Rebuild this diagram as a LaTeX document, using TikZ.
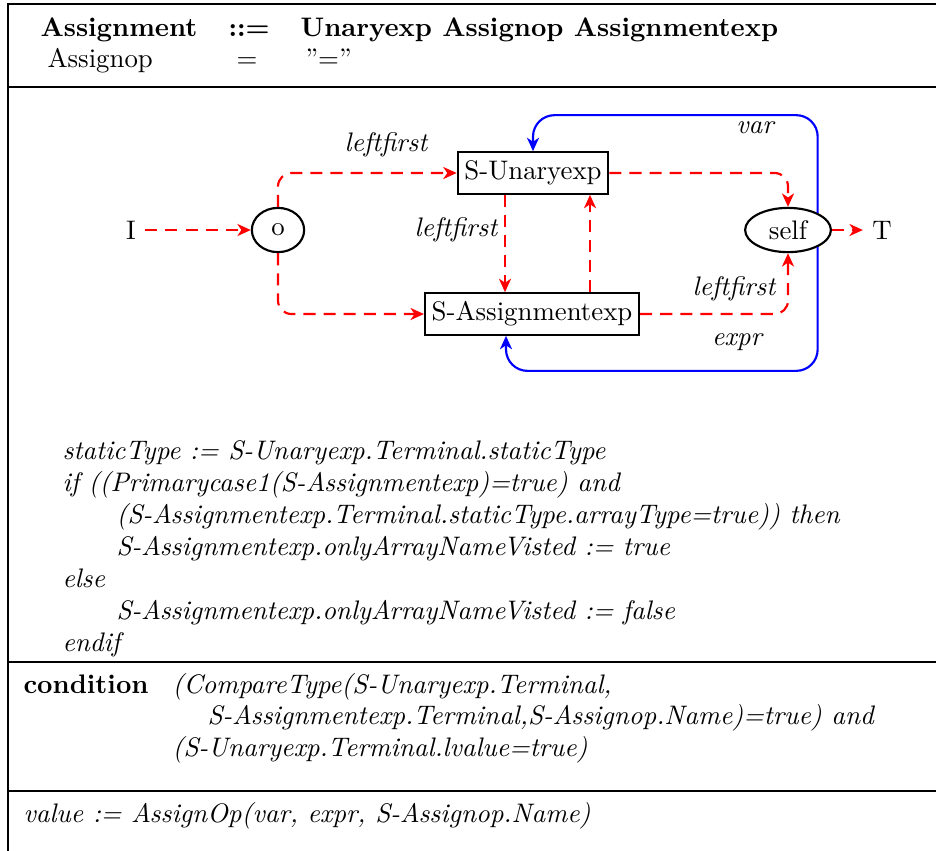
\documentclass[tikz,border=0pt]{standalone}
\usetikzlibrary{arrows.meta,calc,shapes.geometric}

\tikzset{
  flow/.style={->, red, thick, dash pattern=on 4.5pt off 3pt, rounded corners=5pt},
  feed/.style={->, blue, thick, rounded corners=8pt},
  box/.style={draw, thick, inner sep=2.5pt, minimum height=15.5pt},
  state/.style={draw, thick, ellipse, inner sep=1pt, minimum height=16.5pt},
  lbl/.style={font=\itshape},
  txt/.style={anchor=base west, inner sep=0pt},
}

\begin{document}
\begin{tikzpicture}[x=0.373pt, y=-0.373pt, >={Stealth[length=5pt,width=4.5pt,inset=1.5pt]}]
    \useasboundingbox (0,0) rectangle (936,850);
    % frame
    \draw[thick] (8,860) -- (8,4) -- (940,4);
    \draw[thick] (8,87) -- (940,87);
    \draw[thick] (8,662) -- (940,662);
    \draw[thick] (8,791) -- (940,791);

    % grammar rule
    \node[txt, font=\bfseries] (r1) at (40,36) {Assignment};
    \node[txt, font=\bfseries] (r2) at (228,36) {::=};
    \node[txt, font=\bfseries] (r3) at (300,36) {Unaryexp Assignop Assignmentexp};
    \node[txt] (r4) at (47,67) {Assignop};
    \node[txt] (r5) at (236,67) {=};
    \node[txt] (r6) at (305,67) {''=''};

    % graph
    \node (i) at (131,230) {I};
    \node[state, minimum width=19.5pt] (o) at (278,230) {o};
    \node[box] (su) at (533,173) {S-Unaryexp};
    \node[box] (sa) at (532,314) {S-Assignmentexp};
    \node[state, minimum width=32pt] (self) at (788,230) {self};
    \node (t) at (882,230) {T};

    \coordinate (d1) at ($(su.south)+(-28,0)$);
    \coordinate (u1) at ($(sa.north)+(58,0)$);

    \draw[flow] (i) -- (o);
    \draw[flow] (o.north) |- (su.west);
    \draw[flow] (o.south) |- (sa.west);
    \draw[flow] (d1) -- (d1 |- sa.north);
    \draw[flow] (u1) -- (u1 |- su.south);
    \draw[flow] (su.east) -| (self.north);
    \draw[flow] (sa.east) -| (self.south);
    \draw[flow] (self) -- (t);

    \draw[feed] (self.30) |- ($(su.north)+(0,-36)$) -- (su.north);
    \draw[feed] (self.-30) |- ($(sa.south)+(-26,35)$) -- ($(sa.south)+(-26,0)$);

    \node[lbl] (l1) at (386,145) {leftfirst};
    \node[lbl] (l2) at (456,230) {leftfirst};
    \node[lbl] (l3) at (734,289) {leftfirst};
    \node[lbl] (l4) at (755,128) {var};
    \node[lbl] (l5) at (737,342) {expr};

    % semantic actions
    \begin{scope}[font=\itshape]
      \node[txt] (c1) at (62,459) {staticType := S-Unaryexp.Terminal.staticType};
      \node[txt] (c2) at (62,491) {if ((Primarycase1(S-Assignmentexp)=true) and};
      \node[txt] (c3) at (116,523) {(S-Assignmentexp.Terminal.staticType.arrayType=true)) then};
      \node[txt] (c4) at (116,555) {S-Assignmentexp.onlyArrayNameVisted := true};
      \node[txt] (c5) at (62,587) {else};
      \node[txt] (c6) at (116,619) {S-Assignmentexp.onlyArrayNameVisted := false};
      \node[txt] (c7) at (62,651) {endif};
    \end{scope}

    % condition
    \node[txt, font=\bfseries] (k0) at (23,693) {condition};
    \begin{scope}[font=\itshape]
      \node[txt] (k1) at (172,693) {(CompareType(S-Unaryexp.Terminal,};
      \node[txt] (k2) at (207,724) {S-Assignmentexp.Terminal,S-Assignop.Name)=true) and};
      \node[txt] (k3) at (172,756) {(S-Unaryexp.Terminal.lvalue=true)};
      \node[txt] (v1) at (23,822) {value := AssignOp(var, expr, S-Assignop.Name)};
    \end{scope}
\end{tikzpicture}
\end{document}
